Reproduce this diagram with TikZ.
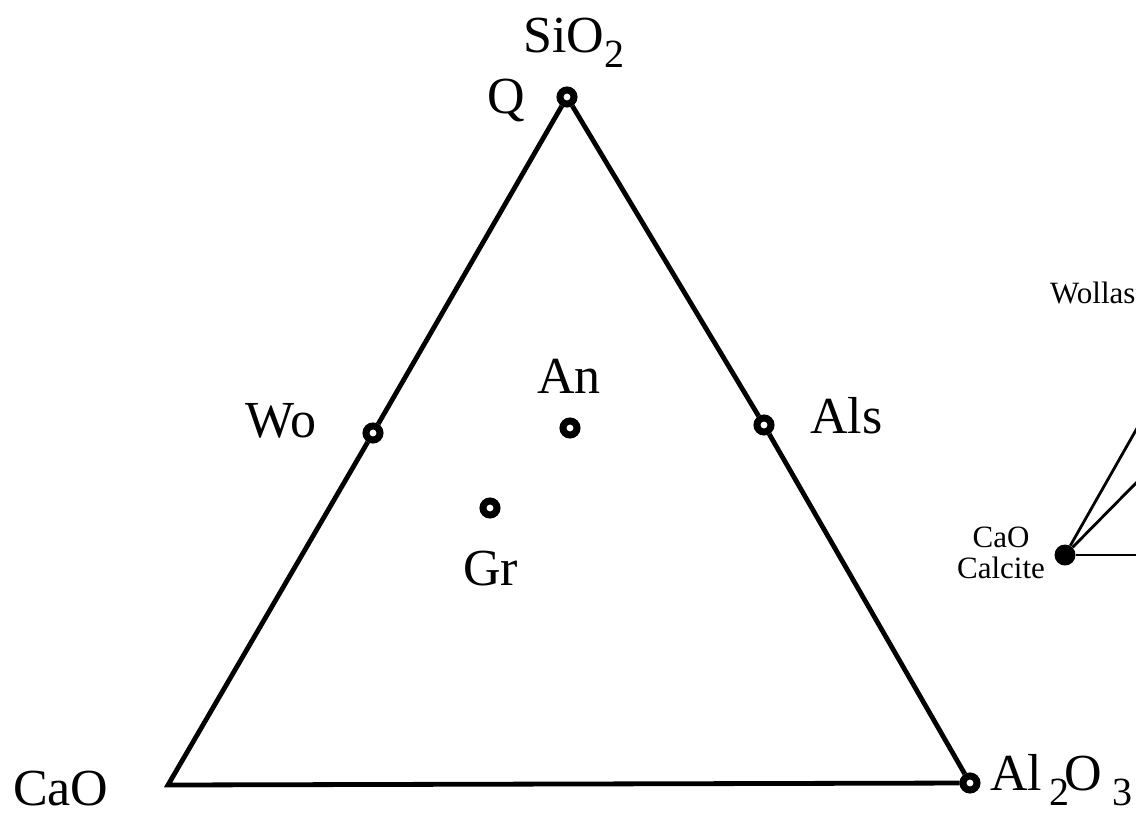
\documentclass[tikz,border=0pt]{standalone}
\usepackage{fontspec}
\setmainfont{Liberation Serif}

\newcommand{\chemsub}[1]{\raisebox{-15pt}{\fontsize{40}{40}\selectfont #1}}

\begin{document}
\begin{tikzpicture}[
  x=1pt, y=-1pt,
  big/.style={font=\fontsize{52}{60}\selectfont, inner sep=0pt, anchor=base west},
  small/.style={font=\fontsize{31}{36}\selectfont, inner sep=0pt, anchor=base},
  phase/.style={circle, draw, line width=7pt, fill=white, inner sep=0pt, minimum size=14pt},
  dot/.style={circle, fill=black, inner sep=0pt, minimum size=21pt},
  edge/.style={line width=4.8pt, line join=miter},
  tie/.style={line width=2.8pt}
]
\useasboundingbox (0,0) rectangle (1136,812);
\clip (0,0) rectangle (1136,812);

% ternary corners and phases
\coordinate (cao) at (168,785);
\node[phase] (q)  at (567,97) {};
\node[phase] (al) at (970,783) {};
\node[phase] (wo) at (373,433) {};
\node[phase] (als) at (764,425) {};
\node[phase] (an) at (570,428) {};
\node[phase] (gr) at (490,508) {};

\draw[edge] (al) -- (cao) -- (wo) -- (q) -- (als) -- (al);

% labels
\node[big] (sio2lbl) at (523,52) {SiO\chemsub{2}};
\node[big] (qlbl) at (487,113) {Q};
\node[big] (wolbl) at (245,437) {Wo};
\node[big] (alslbl) at (810,433) {Als};
\node[big] (anlbl) at (537,393) {An};
\node[big] (grlbl) at (463,585) {Gr};
\node[big] (caolbl) at (13,805) {CaO};
\node[big] (al2o3lbl) at (990,790) {Al\kern7pt\chemsub{2}\kern-5pt O\kern11pt\chemsub{3}};

% second diagram, cut off at the right edge
\node[dot] (calcite) at (1065,555) {};
\coordinate (far1) at (1207,305);
\coordinate (far2) at (1207,411);
\coordinate (far3) at (1207,555);
\draw[tie] (calcite) -- (far1);
\draw[tie] (calcite) -- (far2);
\draw[tie] (calcite) -- (far3);
\node[small] (calcaolbl) at (1001,547) {CaO};
\node[small] (calcitelbl) at (1001,578) {Calcite};
\node[small, anchor=base west] (wollbl) at (1050,303) {Wollastonite};
\end{tikzpicture}
\end{document}
